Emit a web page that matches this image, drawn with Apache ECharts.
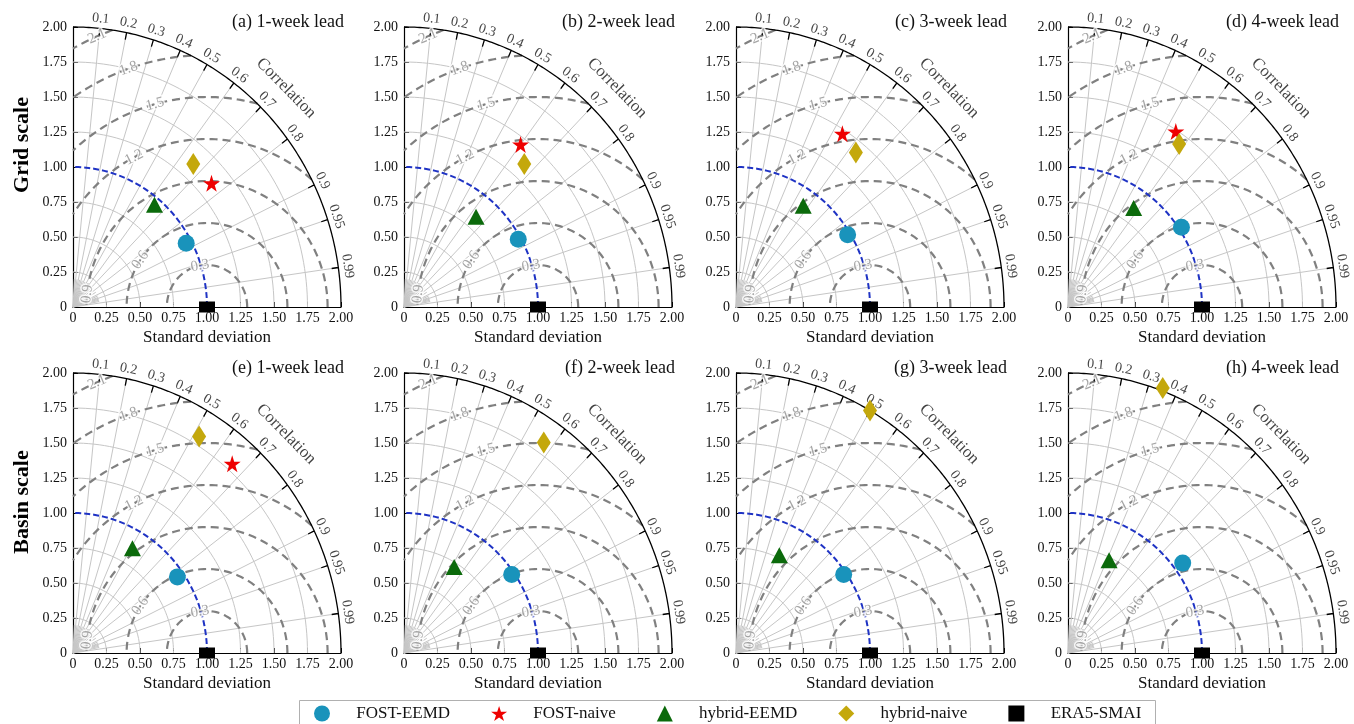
<!DOCTYPE html>
<html>
<head>
<meta charset="utf-8">
<title>Taylor diagrams</title>
<script src="https://cdn.jsdelivr.net/npm/echarts@6/dist/echarts.min.js"></script>
<style>html,body{margin:0;padding:0;background:#fff;}</style>
</head>
<body>
<div id="main" style="width:1354px;height:724px;"></div>
<script type="text/javascript">
var panelTitles = ['(a) 1-week lead', '(b) 2-week lead', '(c) 3-week lead', '(d) 4-week lead',
                   '(e) 1-week lead', '(f) 2-week lead', '(g) 3-week lead', '(h) 4-week lead'];
var rowNames = ['Grid scale', 'Basin scale'];
var models = ['FOST-EEMD', 'FOST-naive', 'hybrid-EEMD', 'hybrid-naive', 'ERA5-SMAI'];

// standard deviation / correlation for panels a..h (null = off the diagram)
var fostEemdStd    = [0.96, 0.98, 0.98, 1.02, 0.95, 0.98, 0.98, 1.07];
var fostEemdCorr   = [0.88, 0.87, 0.85, 0.83, 0.82, 0.82, 0.82, 0.80];
var fostNaiveStd   = [1.36, 1.45, 1.47, 1.49, 1.80, null, null, null];
var fostNaiveCorr  = [0.76, 0.60, 0.54, 0.54, 0.66, null, null, null];
var hybridEemdStd  = [0.95, 0.84, 0.88, 0.86, 0.87, 0.72, 0.77, 0.73];
var hybridEemdCorr = [0.64, 0.64, 0.57, 0.57, 0.51, 0.52, 0.42, 0.42];
var hybridNaiveStd = [1.36, 1.36, 1.42, 1.43, 1.81, 1.83, 2.00, 2.02];
var hybridNaiveCorr= [0.66, 0.66, 0.63, 0.58, 0.52, 0.57, 0.50, 0.35];
var era5Std        = [1, 1, 1, 1, 1, 1, 1, 1];
var era5Corr       = [1, 1, 1, 1, 1, 1, 1, 1];

// diagram furniture
var corrTicks = [0.1, 0.2, 0.3, 0.4, 0.5, 0.6, 0.7, 0.8, 0.9, 0.95, 0.99];
var corrTickText = ['0.1', '0.2', '0.3', '0.4', '0.5', '0.6', '0.7', '0.8', '0.9', '0.95', '0.99'];
var corrMinor = [0.05, 0.15, 0.25, 0.35, 0.45, 0.55, 0.65, 0.75, 0.85, 0.92, 0.94, 0.96, 0.97, 0.98];
var stdArcs = [0.25, 0.5, 0.75, 1.25, 1.5, 1.75];
var rmsdLevels = [0.3, 0.6, 0.9, 1.2, 1.5, 1.8, 2.1];
var rmsdText = ['0.3', '0.6', '0.9', '1.2', '1.5', '1.8', '2.1'];
var rmsdLabelAngle = [100, 146, 174, 117, 105, 109, 113]; // degrees around (1, 0)

var FONT = 'Liberation Serif';
var gridLefts = [73, 404, 736, 1068];
var gridTops = [27, 373];
var GW = 268, GH = 280;

var STAR = 'path://M50,0 L61.2,34.5 L97.6,34.5 L68.2,55.9 L79.4,90.5 L50,69.1 L20.6,90.5 L31.8,55.9 L2.4,34.5 L38.8,34.5 Z';
var modelStd  = [fostEemdStd, fostNaiveStd, hybridEemdStd, hybridNaiveStd, era5Std];
var modelCorr = [fostEemdCorr, fostNaiveCorr, hybridEemdCorr, hybridNaiveCorr, era5Corr];
var modelSymbol = ['circle', STAR, 'triangle', 'diamond', 'rect'];
var modelSize = [17, 17, [17, 16], [14, 22], [16, 11]];
var modelColor = ['#1993bb', '#ee0000', '#0b6a0b', '#c4a80c', '#000000'];

function toXY(std, corr) {
    return [std * corr, std * Math.sqrt(Math.max(0, 1 - corr * corr))];
}
function arc(out, cx, r, a0, a1, n) {
    for (var k = 0; k <= n; k++) {
        var a = a0 + (a1 - a0) * k / n;
        out.push([cx + r * Math.cos(a), r * Math.sin(a)]);
    }
    out.push(['-', '-']);
}
function lightLines() {
    var d = [];
    stdArcs.forEach(function (s) { arc(d, 0, s, 0, Math.PI / 2, 60); });
    corrTicks.forEach(function (c) { d.push([0, 0], toXY(2, c), ['-', '-']); });
    corrMinor.forEach(function (c) { d.push([0, 0], toXY(0.2, c), ['-', '-']); });
    return d;
}
function darkLines() {
    var d = [];
    arc(d, 0, 2, 0, Math.PI / 2, 160);
    corrTicks.forEach(function (c) { d.push(toXY(1.95, c), toXY(2, c), ['-', '-']); });
    return d;
}
function rmsdLines() {
    var d = [];
    rmsdLevels.forEach(function (k) {
        var a0 = Math.acos(Math.min(1, (3 - k * k) / (2 * k)));  // stay inside r = 2
        var a1 = Math.acos(Math.max(-1, -1 / k));                 // stay right of x = 0
        arc(d, 1, k, a0, a1, 80);
    });
    return d;
}
function refArc() { var d = []; arc(d, 0, 1, 0, Math.PI / 2, 80); return d; }
function labelItems() {
    var d = [];
    corrTicks.forEach(function (c, j) {
        var th = Math.acos(c) * 180 / Math.PI;
        d.push({ value: toXY(2.07, c), label: { formatter: corrTickText[j], rotate: th - 90, fontSize: 14, color: '#111' } });
    });
    d.push({ value: toXY(2.23, Math.cos(44.5 * Math.PI / 180)),
             label: { formatter: 'Correlation', rotate: -45.5, fontSize: 17, color: '#111' } });
    rmsdLevels.forEach(function (k, j) {
        var p = rmsdLabelAngle[j] * Math.PI / 180;
        d.push({ value: [1 + k * Math.cos(p), k * Math.sin(p)],
            label: { formatter: rmsdText[j], rotate: rmsdLabelAngle[j] - 90, fontSize: 15, color: '#8e8e8e',
                     textBorderColor: '#fff', textBorderWidth: 3 } });
    });
    return d;
}
function fmt(v) { return v === 0 ? '0' : v.toFixed(2); }

function makeAxis(i, isX) {
    var ax = {
        gridIndex: i, type: 'value', min: 0, max: 2, interval: 0.25,
        axisLine: { show: true, onZero: false, lineStyle: { color: '#000', width: 1.2 } },
        axisTick: { show: true, inside: true, length: 5, lineStyle: { color: '#000' } },
        splitLine: { show: false },
        axisLabel: { formatter: fmt, fontFamily: FONT, fontSize: 14, color: '#111', margin: isX ? 4 : 6 }
    };
    if (isX) {
        ax.name = 'Standard deviation';
        ax.nameLocation = 'middle';
        ax.nameGap = 22;
        ax.nameTextStyle = { fontFamily: FONT, fontSize: 17, color: '#111' };
    }
    return ax;
}
function lineSeries(i, data, style, z) {
    return { type: 'line', xAxisIndex: i, yAxisIndex: i, data: data, symbol: 'none', showSymbol: false,
             clip: false, silent: true, z: z, lineStyle: style };
}

// level 0: full styling; 1: without explicit opacity; 2: plain legend box (safe fallback)
function buildOption(level) {
    var grids = [], xAxes = [], yAxes = [], series = [], graphics = [];
    for (var i = 0; i < 8; i++) {
        var left = gridLefts[i % 4], top = gridTops[Math.floor(i / 4)];
        grids.push({ left: left, top: top, width: GW, height: GH, outerBoundsMode: 'none', containLabel: false });
        xAxes.push(makeAxis(i, true));
        yAxes.push(makeAxis(i, false));

        series.push(lineSeries(i, lightLines(), { color: '#c6c6c6', width: 1 }, 1));
        series.push(lineSeries(i, rmsdLines(), { color: '#808080', width: 2.2, type: [8, 5] }, 2));
        series.push(lineSeries(i, refArc(), { color: '#1f33c4', width: 2, type: [6, 3] }, 3));
        series.push(lineSeries(i, darkLines(), { color: '#000', width: 1.3 }, 3));
        series.push({ type: 'scatter', xAxisIndex: i, yAxisIndex: i, symbolSize: 0, silent: true, clip: false, z: 4,
            label: { show: true, position: 'inside', fontFamily: FONT }, data: labelItems() });

        for (var m = 0; m < models.length; m++) {
            var s = modelStd[m][i], c = modelCorr[m][i];
            var st = { color: modelColor[m] };
            if (level === 0) st.opacity = 1;
            series.push({ type: 'scatter', name: models[m], xAxisIndex: i, yAxisIndex: i, clip: false, z: 6,
                symbol: modelSymbol[m], symbolSize: modelSize[m], itemStyle: st,
                data: s == null ? [] : [toXY(s, c)] });
        }
        graphics.push({ type: 'text', x: left + 271, y: top - 5,
            style: { text: panelTitles[i], fill: '#111', font: '18px "' + FONT + '"', align: 'right', verticalAlign: 'middle' } });
    }
    graphics.push({ type: 'text', x: 22, y: 145, rotation: Math.PI / 2,
        style: { text: rowNames[0], fill: '#000', font: 'bold 22px "' + FONT + '"', align: 'center', verticalAlign: 'middle' } });
    graphics.push({ type: 'text', x: 22, y: 502, rotation: Math.PI / 2,
        style: { text: rowNames[1], fill: '#000', font: 'bold 22px "' + FONT + '"', align: 'center', verticalAlign: 'middle' } });

    var legend;
    if (level < 2) {
        graphics.push({ type: 'rect', shape: { x: 299.5, y: 700.5, width: 856, height: 40 },
            style: { fill: 'none', stroke: '#b0b0b0', lineWidth: 1 } });
        // square icon boxes; the gap between icon and name is made with leading spaces
        legend = { data: models, left: 314, top: 705, orient: 'horizontal',
            itemWidth: 16, itemHeight: 16, itemGap: 41, padding: [0, 0, 0, 0],
            formatter: function (name) { return '\u2003 ' + name; },
            textStyle: { fontFamily: FONT, fontSize: 17, color: '#111' } };
    } else {
        legend = { data: models, left: 299, top: 701, orient: 'horizontal',
            itemWidth: 24, itemHeight: 16, itemGap: 39, padding: [4, 12, 12, 11], borderColor: '#aaa', borderWidth: 1,
            textStyle: { fontFamily: FONT, fontSize: 17, color: '#111' } };
    }
    return { backgroundColor: '#fff', animation: false, grid: grids, xAxis: xAxes, yAxis: yAxes,
             legend: legend, graphic: graphics, series: series };
}

var dom = document.getElementById('main');
function render(level) {
    var chart = echarts.init(dom);
    try {
        chart.setOption(buildOption(level));
        return true;
    } catch (e) {
        try { chart.dispose(); } catch (e2) {}
        dom.innerHTML = '';
        return false;
    }
}
if (!render(0)) { if (!render(1)) { render(2); } }
</script>
</body>
</html>
